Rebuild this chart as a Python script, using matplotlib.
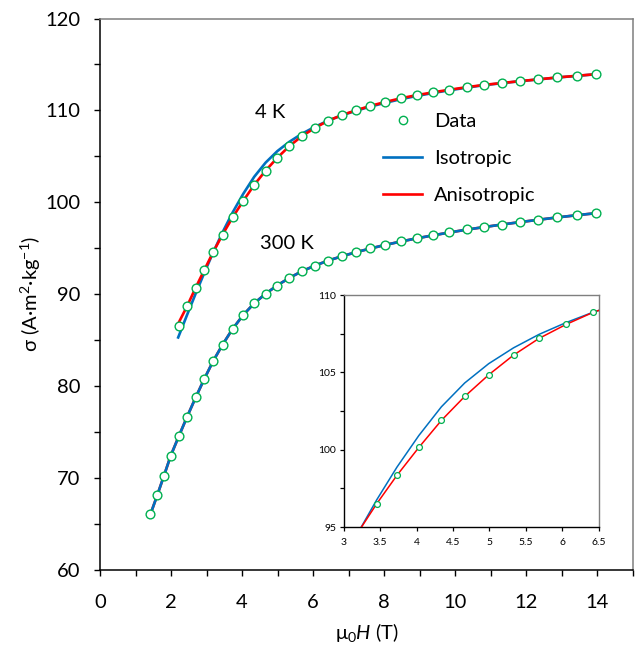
import matplotlib
matplotlib.use("Agg")
import matplotlib.pyplot as plt
from matplotlib.ticker import MultipleLocator

plt.rcParams['font.family'] = ['Lato', 'DejaVu Sans']
plt.rcParams['mathtext.fontset'] = 'custom'
plt.rcParams['mathtext.rm'] = 'Lato'
plt.rcParams['mathtext.it'] = 'Lato:italic'

# ---- data ----
field_300K = [1.42, 1.61, 1.80, 1.99, 2.22, 2.45, 2.69, 2.93, 3.18, 3.45, 3.73, 4.03,
              4.34, 4.66, 4.99, 5.33, 5.68, 6.05, 6.42, 6.81, 7.21, 7.61, 8.03, 8.47,
              8.91, 9.36, 9.83, 10.32, 10.81, 11.30, 11.82, 12.33, 12.87, 13.42, 13.97]
sigma_300K = [66.05, 68.12, 70.25, 72.43, 74.57, 76.66, 78.77, 80.76, 82.72, 84.53,
              86.23, 87.75, 89.02, 90.03, 90.95, 91.77, 92.50, 93.12, 93.66, 94.13,
              94.60, 95.00, 95.36, 95.76, 96.10, 96.40, 96.74, 97.05, 97.35, 97.55,
              97.86, 98.12, 98.37, 98.59, 98.80]

field_4K = [2.22, 2.45, 2.69, 2.93, 3.18, 3.45, 3.73, 4.03, 4.34, 4.66, 4.99, 5.33,
            5.68, 6.05, 6.42, 6.81, 7.21, 7.61, 8.03, 8.47, 8.91, 9.36, 9.83, 10.32,
            10.81, 11.30, 11.82, 12.33, 12.87, 13.42, 13.97]
sigma_4K = [86.60, 88.70, 90.70, 92.60, 94.60, 96.50, 98.40, 100.15, 101.90, 103.45,
            104.85, 106.15, 107.20, 108.10, 108.88, 109.50, 110.00, 110.50, 110.90,
            111.35, 111.66, 111.96, 112.25, 112.53, 112.79, 112.97, 113.19, 113.37,
            113.59, 113.77, 113.91]

# fitted curves
fit_field_4K = [2.20, 2.45, 2.69, 2.93, 3.18, 3.45, 3.73, 4.03, 4.34, 4.66, 4.99, 5.33,
                5.68, 6.05, 6.42, 6.81, 7.21, 7.61, 8.03, 8.47, 8.91, 9.36, 9.83, 10.32,
                10.81, 11.30, 11.82, 12.33, 12.87, 13.42, 14.00]
iso_4K = [85.30, 87.75, 90.05, 92.28, 94.51, 96.75, 98.88, 100.92, 102.78, 104.32,
          105.57, 106.59, 107.46, 108.22, 108.89, 109.47, 109.97, 110.42, 110.83,
          111.23, 111.57, 111.89, 112.19, 112.48, 112.75, 112.96, 113.18, 113.37,
          113.58, 113.76, 113.95]
aniso_4K = [86.80, 88.70, 90.70, 92.60, 94.55, 96.50, 98.35, 100.15, 101.90, 103.45,
            104.85, 106.12, 107.20, 108.10, 108.88, 109.50, 110.02, 110.50, 110.92,
            111.33, 111.66, 111.96, 112.25, 112.53, 112.78, 112.98, 113.19, 113.38,
            113.59, 113.77, 113.96]

fit_field_300K = [1.40, 1.61, 1.80, 1.99, 2.22, 2.45, 2.69, 2.93, 3.18, 3.45, 3.73, 4.03,
                  4.34, 4.66, 4.99, 5.33, 5.68, 6.05, 6.42, 6.81, 7.21, 7.61, 8.03, 8.47,
                  8.91, 9.36, 9.83, 10.32, 10.81, 11.30, 11.82, 12.33, 12.87, 13.42, 14.00]
fit_300K = [65.85, 68.12, 70.25, 72.43, 74.57, 76.66, 78.75, 80.75, 82.70, 84.52,
            86.22, 87.74, 89.02, 90.05, 90.97, 91.78, 92.50, 93.12, 93.66, 94.14,
            94.58, 94.98, 95.37, 95.74, 96.08, 96.40, 96.72, 97.03, 97.31, 97.58,
            97.85, 98.10, 98.36, 98.60, 98.84]

labels_T = ['4 K', '300 K']

GREEN = '#00B050'
BLUE = '#0070C0'
RED = '#FF0000'
GREY = '#7f7f7f'
FS = 14.5

fig = plt.figure(figsize=(6.39, 6.5), dpi=100)
ax = fig.add_axes([0.1565, 0.1231, 0.8341, 0.8484])

ax.plot(fit_field_300K, fit_300K, color=RED, lw=1.9, zorder=2)
ax.plot(fit_field_300K, fit_300K, color=BLUE, lw=1.9, zorder=3)
ax.plot(fit_field_4K, iso_4K, color=BLUE, lw=1.9, zorder=2, label='Isotropic')
ax.plot(fit_field_4K, aniso_4K, color=RED, lw=1.9, zorder=3, label='Anisotropic')
ax.plot(field_300K, sigma_300K, 'o', ms=6.3, mfc='white', mec=GREEN, mew=1.0, zorder=4)
ax.plot(field_4K, sigma_4K, 'o', ms=6.3, mfc='white', mec=GREEN, mew=1.0, zorder=4,
        label='Data')

ax.set_xlim(0, 15)
ax.set_ylim(60, 120)
ax.xaxis.set_major_locator(MultipleLocator(2))
ax.xaxis.set_minor_locator(MultipleLocator(1))
ax.yaxis.set_major_locator(MultipleLocator(10))
ax.yaxis.set_minor_locator(MultipleLocator(5))
ax.tick_params(which='both', direction='out', length=4.5, width=1, labelsize=FS,
               color='black')
ax.tick_params(axis='x', pad=13)
ax.tick_params(axis='y', pad=9.5)
for s in ['left', 'bottom']:
    ax.spines[s].set_color('black')
    ax.spines[s].set_linewidth(1.1)
for s in ['top', 'right']:
    ax.spines[s].set_color(GREY)
    ax.spines[s].set_linewidth(1.1)

ax.set_xlabel('μ$_0$$\\mathit{H}$ (T)', fontsize=FS, labelpad=7)
ax.set_ylabel('σ (A·m$^2$·kg$^{-1}$)', fontsize=FS, labelpad=2)

ax.text(4.8, 109.8, labels_T[0], fontsize=FS, ha='center', va='center')
ax.text(5.25, 95.5, labels_T[1], fontsize=FS, ha='center', va='center')

handles, lbls = ax.get_legend_handles_labels()
order = [lbls.index('Data'), lbls.index('Isotropic'), lbls.index('Anisotropic')]
leg = ax.legend([handles[i] for i in order], [lbls[i] for i in order],
                loc='upper left', bbox_to_anchor=(0.497, 0.862), frameon=False,
                fontsize=FS, labelspacing=1.0, handlelength=1.95, handletextpad=0.6,
                numpoints=1)
leg.legend_handles[0].set_markersize(6)

# inset
ins = fig.add_axes([0.538, 0.189, 0.399, 0.357])
ins.plot(fit_field_4K, iso_4K, color=BLUE, lw=1.1, zorder=2)
ins.plot(fit_field_4K, aniso_4K, color=RED, lw=1.1, zorder=3)
ins.plot(field_4K, sigma_4K, 'o', ms=4.2, mfc='white', mec=GREEN, mew=0.9, zorder=4)
ins.set_xlim(3, 6.5)
ins.set_ylim(95, 110)
ins.xaxis.set_major_locator(MultipleLocator(0.5))
ins.yaxis.set_major_locator(MultipleLocator(5))
ins.yaxis.set_minor_locator(MultipleLocator(2.5))
ins.tick_params(which='both', direction='out', length=3, width=0.9, labelsize=7.5,
                pad=2.5)
ins.tick_params(axis='x', pad=4.5)
ins.xaxis.set_major_formatter(plt.FuncFormatter(lambda v, p: f'{v:g}'))
for s in ['left', 'bottom']:
    ins.spines[s].set_color('black')
    ins.spines[s].set_linewidth(1.0)
for s in ['top', 'right']:
    ins.spines[s].set_color(GREY)
    ins.spines[s].set_linewidth(1.0)

fig.savefig('out.png', dpi=100)
